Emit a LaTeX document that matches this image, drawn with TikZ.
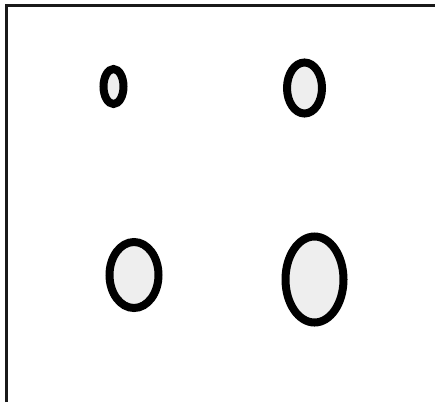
\documentclass[tikz,border=0pt]{standalone}
\begin{document}
\begin{tikzpicture}[x=1pt,y=-1pt,line width=8pt]
\useasboundingbox (0,0) rectangle (435,402);
\coordinate (P) at (113.5,86.5);
\coordinate (Q) at (304.5,88);
\coordinate (R) at (134,275);
\coordinate (S) at (314.5,279.5);
\draw[line width=2.2pt,black!90] (6.5,402) -- (6.5,5.5) -- (435,5.5);
\begin{scope}[fill=gray!13]
\draw[fill=gray!13] (P) ellipse[x radius=10,y radius=17.5];
\draw[fill=gray!13] (Q) ellipse[x radius=17.5,y radius=25.5];
\draw[fill=gray!13] (R) ellipse[x radius=24.5,y radius=33];
\draw[fill=gray!13] (S) ellipse[x radius=29,y radius=43];
\end{scope}
\end{tikzpicture}
\end{document}
